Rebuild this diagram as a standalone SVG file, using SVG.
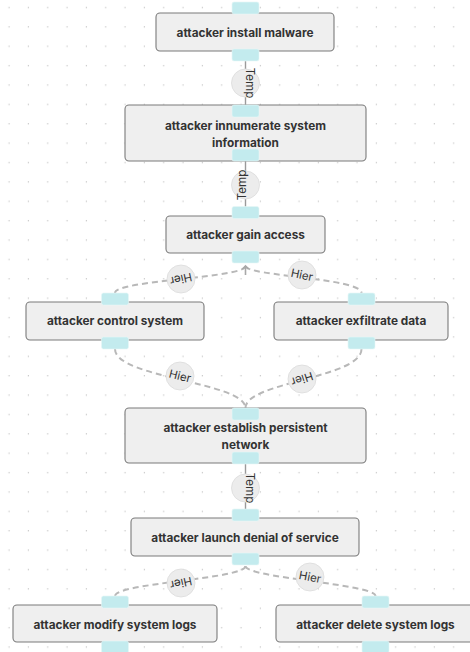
<svg xmlns="http://www.w3.org/2000/svg" width="470" height="652" viewBox="0 0 470 652">
<defs>
<pattern id="grid" x="0" y="0" width="19.33" height="19.38" patternUnits="userSpaceOnUse">
<rect x="8.5" y="6.9" width="1.2" height="1.2" fill="#c4c4c4"/>
</pattern>
<style>
.node rect.box{fill:#efefef;stroke:#7a7a7a;stroke-width:1.1}
.port{fill:#c3ebee;stroke:#e6f6f7;stroke-width:0.6}
.nt{font-family:Inter,"Noto Sans","Liberation Sans",sans-serif;font-weight:700;font-size:11.8px;fill:#333;text-anchor:middle}
.temp{stroke:#9a9a9a;stroke-width:1.4;fill:none}
.hier{stroke:#b8b8b8;stroke-width:2;stroke-dasharray:6 4;fill:none}
.lc{fill:#ececec;stroke:#dcdcdc;stroke-width:0.8}
.lt{font-family:Inter,"Noto Sans","Liberation Sans",sans-serif;font-size:11.5px;fill:#333;text-anchor:middle}
</style>
</defs>
<rect width="470" height="652" fill="#ffffff"/>
<rect width="470" height="652" fill="url(#grid)"/>

<g id="connectors">
<line class="temp" x1="245.5" y1="61" x2="245.5" y2="105"/>
<circle class="lc" cx="245.5" cy="83" r="14"/>
<text class="lt" transform="translate(245.5,83) rotate(90)" x="0" y="0">Temp</text>

<line class="temp" x1="245.5" y1="161" x2="245.5" y2="207"/>
<circle class="lc" cx="245.5" cy="185" r="14"/>
<text class="lt" transform="translate(245.5,185) rotate(-90)" x="0" y="0">Temp</text>

<path class="hier" d="M245.5,266 C245.5,278 115,280 115,293"/>
<path class="hier" d="M245.5,266 C245.5,276 361.5,278 361.5,293"/>
<path d="M245.5,275 L245.5,266 M242.5,269 L245.5,266 L248.5,269" stroke="#a8a8a8" stroke-width="1.6" fill="none"/>
<circle class="lc" cx="181" cy="279" r="14"/>
<text class="lt" transform="translate(181,279) rotate(168)" x="0" y="4">Hier</text>
<circle class="lc" cx="302" cy="275" r="14"/>
<text class="lt" transform="translate(302,275) rotate(12)" x="0" y="4">Hier</text>

<path class="hier" d="M115,349 C115,378 245,382 245.5,408"/>
<path class="hier" d="M361.5,349 C361.5,378 245.5,382 245.5,408"/>
<circle class="lc" cx="180" cy="376" r="14"/>
<text class="lt" transform="translate(180,376) rotate(14)" x="0" y="4">Hier</text>
<circle class="lc" cx="302" cy="379" r="14"/>
<text class="lt" transform="translate(302,379) rotate(162)" x="0" y="4">Hier</text>

<line class="temp" x1="245.5" y1="464" x2="245.5" y2="509"/>
<circle class="lc" cx="245.5" cy="488" r="14"/>
<text class="lt" transform="translate(245.5,488) rotate(90)" x="0" y="0">Temp</text>

<path class="hier" d="M245.5,566 C245.5,579 115,583 115,596"/>
<path class="hier" d="M245.5,566 C245.5,578 375.5,584 375.5,596"/>
<circle class="lc" cx="181" cy="583" r="14"/>
<text class="lt" transform="translate(181,583) rotate(168)" x="0" y="4">Hier</text>
<circle class="lc" cx="310" cy="577" r="14"/>
<text class="lt" transform="translate(310,577) rotate(11)" x="0" y="4">Hier</text>
</g>

<g id="n1" class="node">
<rect class="box" x="156" y="13" width="178" height="38" rx="4"/>
<text class="nt" x="245" y="37">attacker install malware</text>
<rect class="port" x="232" y="2" width="27" height="12" rx="2"/>
<rect class="port" x="232" y="49" width="27" height="12" rx="2"/>
</g>
<g id="n2" class="node">
<rect class="box" x="125" y="105" width="241" height="56" rx="4"/>
<text class="nt" x="245.5" y="129.5">attacker innumerate system</text>
<text class="nt" x="245.5" y="146.5">information</text>
<rect class="port" x="232" y="105" width="27" height="12" rx="2"/>
<rect class="port" x="232" y="149" width="27" height="12" rx="2"/>
</g>
<g id="n3" class="node">
<rect class="box" x="166" y="216" width="159" height="37" rx="4"/>
<text class="nt" x="245.5" y="238.5">attacker gain access</text>
<rect class="port" x="232" y="206.5" width="27" height="12" rx="2"/>
<rect class="port" x="232" y="251" width="27" height="12" rx="2"/>
</g>
<g id="n4" class="node">
<rect class="box" x="26" y="302" width="178" height="38" rx="4"/>
<text class="nt" x="115" y="325">attacker control system</text>
<rect class="port" x="101.5" y="293" width="27" height="12" rx="2"/>
<rect class="port" x="101.5" y="337" width="27" height="12" rx="2"/>
</g>
<g id="n5" class="node">
<rect class="box" x="274" y="302" width="174" height="38" rx="4"/>
<text class="nt" x="361" y="325">attacker exfiltrate data</text>
<rect class="port" x="348" y="293" width="27" height="12" rx="2"/>
<rect class="port" x="348" y="337" width="27" height="12" rx="2"/>
</g>
<g id="n6" class="node">
<rect class="box" x="125" y="408" width="241" height="55" rx="4"/>
<text class="nt" x="245.5" y="431.5">attacker establish persistent</text>
<text class="nt" x="245.5" y="448.5">network</text>
<rect class="port" x="232" y="408" width="27" height="12" rx="2"/>
<rect class="port" x="232" y="452" width="27" height="12" rx="2"/>
</g>
<g id="n7" class="node">
<rect class="box" x="131" y="518" width="228" height="38" rx="4"/>
<text class="nt" x="245" y="541.5">attacker launch denial of service</text>
<rect class="port" x="232" y="509" width="27" height="12" rx="2"/>
<rect class="port" x="232" y="553" width="27" height="12" rx="2"/>
</g>
<g id="n8" class="node">
<rect class="box" x="13" y="605" width="204" height="37" rx="4"/>
<text class="nt" x="115" y="628.5">attacker modify system logs</text>
<rect class="port" x="101.5" y="596" width="27" height="12" rx="2"/>
<rect class="port" x="101.5" y="641" width="27" height="12" rx="2"/>
</g>
<g id="n9" class="node">
<rect class="box" x="276" y="605" width="200" height="37" rx="4"/>
<text class="nt" x="375.5" y="628.5">attacker delete system logs</text>
<rect class="port" x="362" y="596" width="27" height="12" rx="2"/>
<rect class="port" x="362" y="641" width="27" height="12" rx="2"/>
</g>
</svg>
